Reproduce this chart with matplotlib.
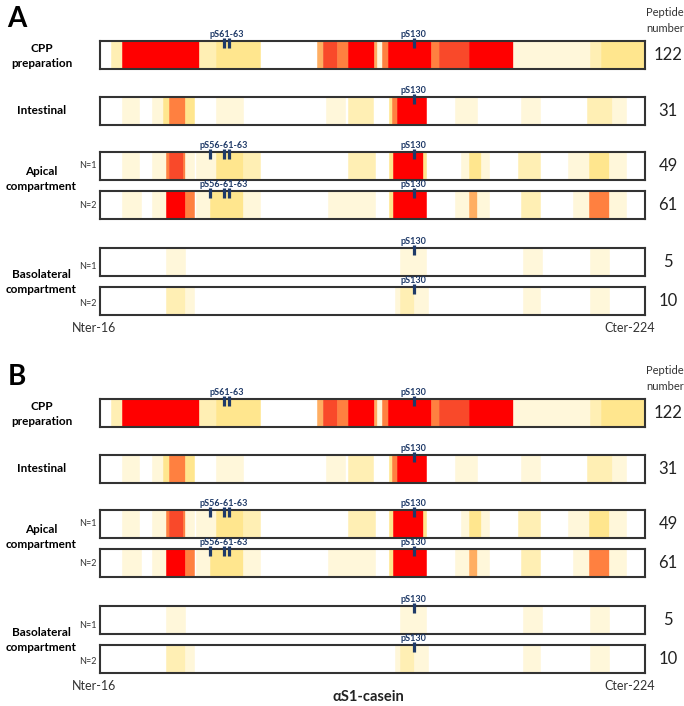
import matplotlib
matplotlib.use("Agg")
import matplotlib.pyplot as plt

plt.rcParams['font.family'] = ['Lato', 'DejaVu Sans']

# residue range of the bars
N_TER, C_TER = 16, 214

# intensity level -> colour (0 = not detected)
LEVEL_COLOURS = ['#FFFFFF', '#FFF7DA', '#FFEFB4', '#FFE68E',
                 '#FFAE62', '#FF8040', '#F9492A', '#FF0000']

# segments (start residue, end residue, level)
cpp = [(20, 24, 2), (24, 52, 7), (52, 58, 2), (58, 74, 3), (95, 97, 4),
       (97, 102, 6), (102, 106, 5), (106, 115.5, 7), (115.5, 116.5, 4),
       (116.5, 118.5, 1), (118.5, 120.6, 5), (120.6, 136.3, 7), (136.3, 139, 5),
       (139, 150, 6), (150, 166, 7), (166, 194, 1), (194, 198, 2), (198, 214, 3)]
intestinal = [(24, 30, 1), (35, 39, 1), (39, 41, 3), (41, 47, 5), (47, 50, 3),
              (58, 68, 1), (98, 105, 1), (106, 115, 2), (121, 122, 3),
              (122, 124, 5), (124, 134.5, 7), (145, 153, 1), (169, 176, 1),
              (193, 202, 2), (202, 207, 1)]
apical_n1 = [(24, 30, 1), (35, 40, 1), (40, 41, 5), (41, 46, 6), (46, 47, 5),
             (47, 50, 1), (51, 58, 1), (58, 68, 3), (68, 74, 2), (106, 116, 2),
             (121, 122.5, 3), (122.5, 133.4, 7), (133.4, 134.5, 3), (147, 150, 1),
             (150, 154.5, 3), (154.5, 157.5, 1), (168, 176, 2), (186, 193.5, 1),
             (193.5, 201, 3), (201, 207, 1)]
apical_n2 = [(24, 31, 1), (35, 40, 1), (40, 47, 7), (47, 50, 5), (51, 56, 1),
             (56, 68, 3), (68, 74, 1), (99, 116, 1), (121, 122.5, 3),
             (122.5, 134.5, 7), (145, 150, 1), (150, 153, 4), (153, 157.5, 1),
             (169, 176, 2), (188, 193.5, 1), (193.5, 201, 5), (201, 207, 1)]
baso_n1 = [(40, 47, 1), (125, 134.5, 1), (169.5, 176.4, 1), (194, 201, 1)]
baso_n2 = [(40, 47, 2), (47, 50, 1), (123, 125, 1), (125, 130, 2), (130, 135, 1),
           (169.5, 176, 1), (194, 201, 1)]

rows = [cpp, intestinal, apical_n1, apical_n2, baso_n1, baso_n2]
peptide_numbers = [122, 31, 49, 61, 5, 10]

# phosphorylation markers per row: (label, label centre, residues)
marks_cpp = [('pS61-63', 62, [61, 63]), ('pS130', 130, [130])]
marks_apical = [('pS56-61-63', 61, [56, 61, 63]), ('pS130', 130, [130])]
marks_s130 = [('pS130', 130, [130])]
row_marks = [marks_cpp, marks_s130, marks_apical, marks_apical, marks_s130, marks_s130]

# layout in pixels
W, H = 684, 706
BAR_L, BAR_R = 100, 645
bar_tops = [41, 97, 152, 191, 248, 287]
BAR_H = 28
PANEL_OFFSET = 358
NAVY = '#1F3A68'

fig = plt.figure(figsize=(W / 100, H / 100), dpi=100)


def ftext(x, y, s, **kw):
    fig.text(x / W, 1 - y / H, s, **kw)


for p, letter in enumerate(['A', 'B']):
    off = p * PANEL_OFFSET
    ftext(17, 19 + off, letter, fontsize=20, fontweight='bold', ha='center', va='center')
    ftext(665, 13 + off, 'Peptide', fontsize=8, ha='center', va='center', color='#333333')
    ftext(665, 29 + off, 'number', fontsize=8, ha='center', va='center', color='#333333')

    ftext(42, 56 + off, 'CPP\npreparation', fontsize=8.5, fontweight='bold',
          ha='center', va='center', linespacing=1.5)
    ftext(42, 111 + off, 'Intestinal', fontsize=8.5, fontweight='bold',
          ha='center', va='center')
    ftext(41, 179 + off, 'Apical\ncompartment', fontsize=8.5, fontweight='bold',
          ha='center', va='center', linespacing=1.4)
    ftext(41, 282 + off, 'Basolateral\ncompartment', fontsize=8.5, fontweight='bold',
          ha='center', va='center', linespacing=1.4)
    for yy in [166, 205, 267, 303]:
        lab = 'N=1' if yy in (166, 267) else 'N=2'
        ftext(88, yy + off, lab, fontsize=6.5, ha='center', va='center', color='#333333')

    ftext(94, 328 + off, 'Nter-16', fontsize=9, ha='center', va='center', color='#333333')
    ftext(630, 328 + off, 'Cter-224', fontsize=9, ha='center', va='center', color='#333333')

    for segs, top, num, marks in zip(rows, bar_tops, peptide_numbers, row_marks):
        t = top + off
        ax = fig.add_axes([BAR_L / W, 1 - (t + BAR_H) / H,
                           (BAR_R - BAR_L) / W, BAR_H / H])
        ax.set_xlim(N_TER, C_TER)
        ax.set_ylim(0, 1)
        ax.broken_barh([(s, e - s) for s, e, _ in segs], (0, 1),
                       facecolors=[LEVEL_COLOURS[lv] for _, _, lv in segs],
                       edgecolors=[LEVEL_COLOURS[lv] for _, _, lv in segs],
                       linewidth=0.4)
        ax.set_xticks([])
        ax.set_yticks([])
        for sp in ax.spines.values():
            sp.set_linewidth(1.5)
            sp.set_color('#333333')
        tr = ax.get_xaxis_transform()
        for label, centre, residues in marks:
            for r in residues:
                ax.plot([r, r], [0.74, 1.12], transform=tr, color=NAVY, lw=2.3,
                        solid_capstyle='butt', clip_on=False, zorder=5)
            ax.text(centre, 1.06, label, transform=tr, ha='center', va='bottom',
                    fontsize=6.5, fontweight='bold', color=NAVY, zorder=6)
        ftext(668, t + BAR_H / 2, str(num), fontsize=12, ha='center', va='center',
              color='#222222')

ftext(368, 697, 'αS1-casein', fontsize=10.5, fontweight='bold', ha='center', va='center',
      color='#222222')

fig.savefig('out.png', dpi=100)
